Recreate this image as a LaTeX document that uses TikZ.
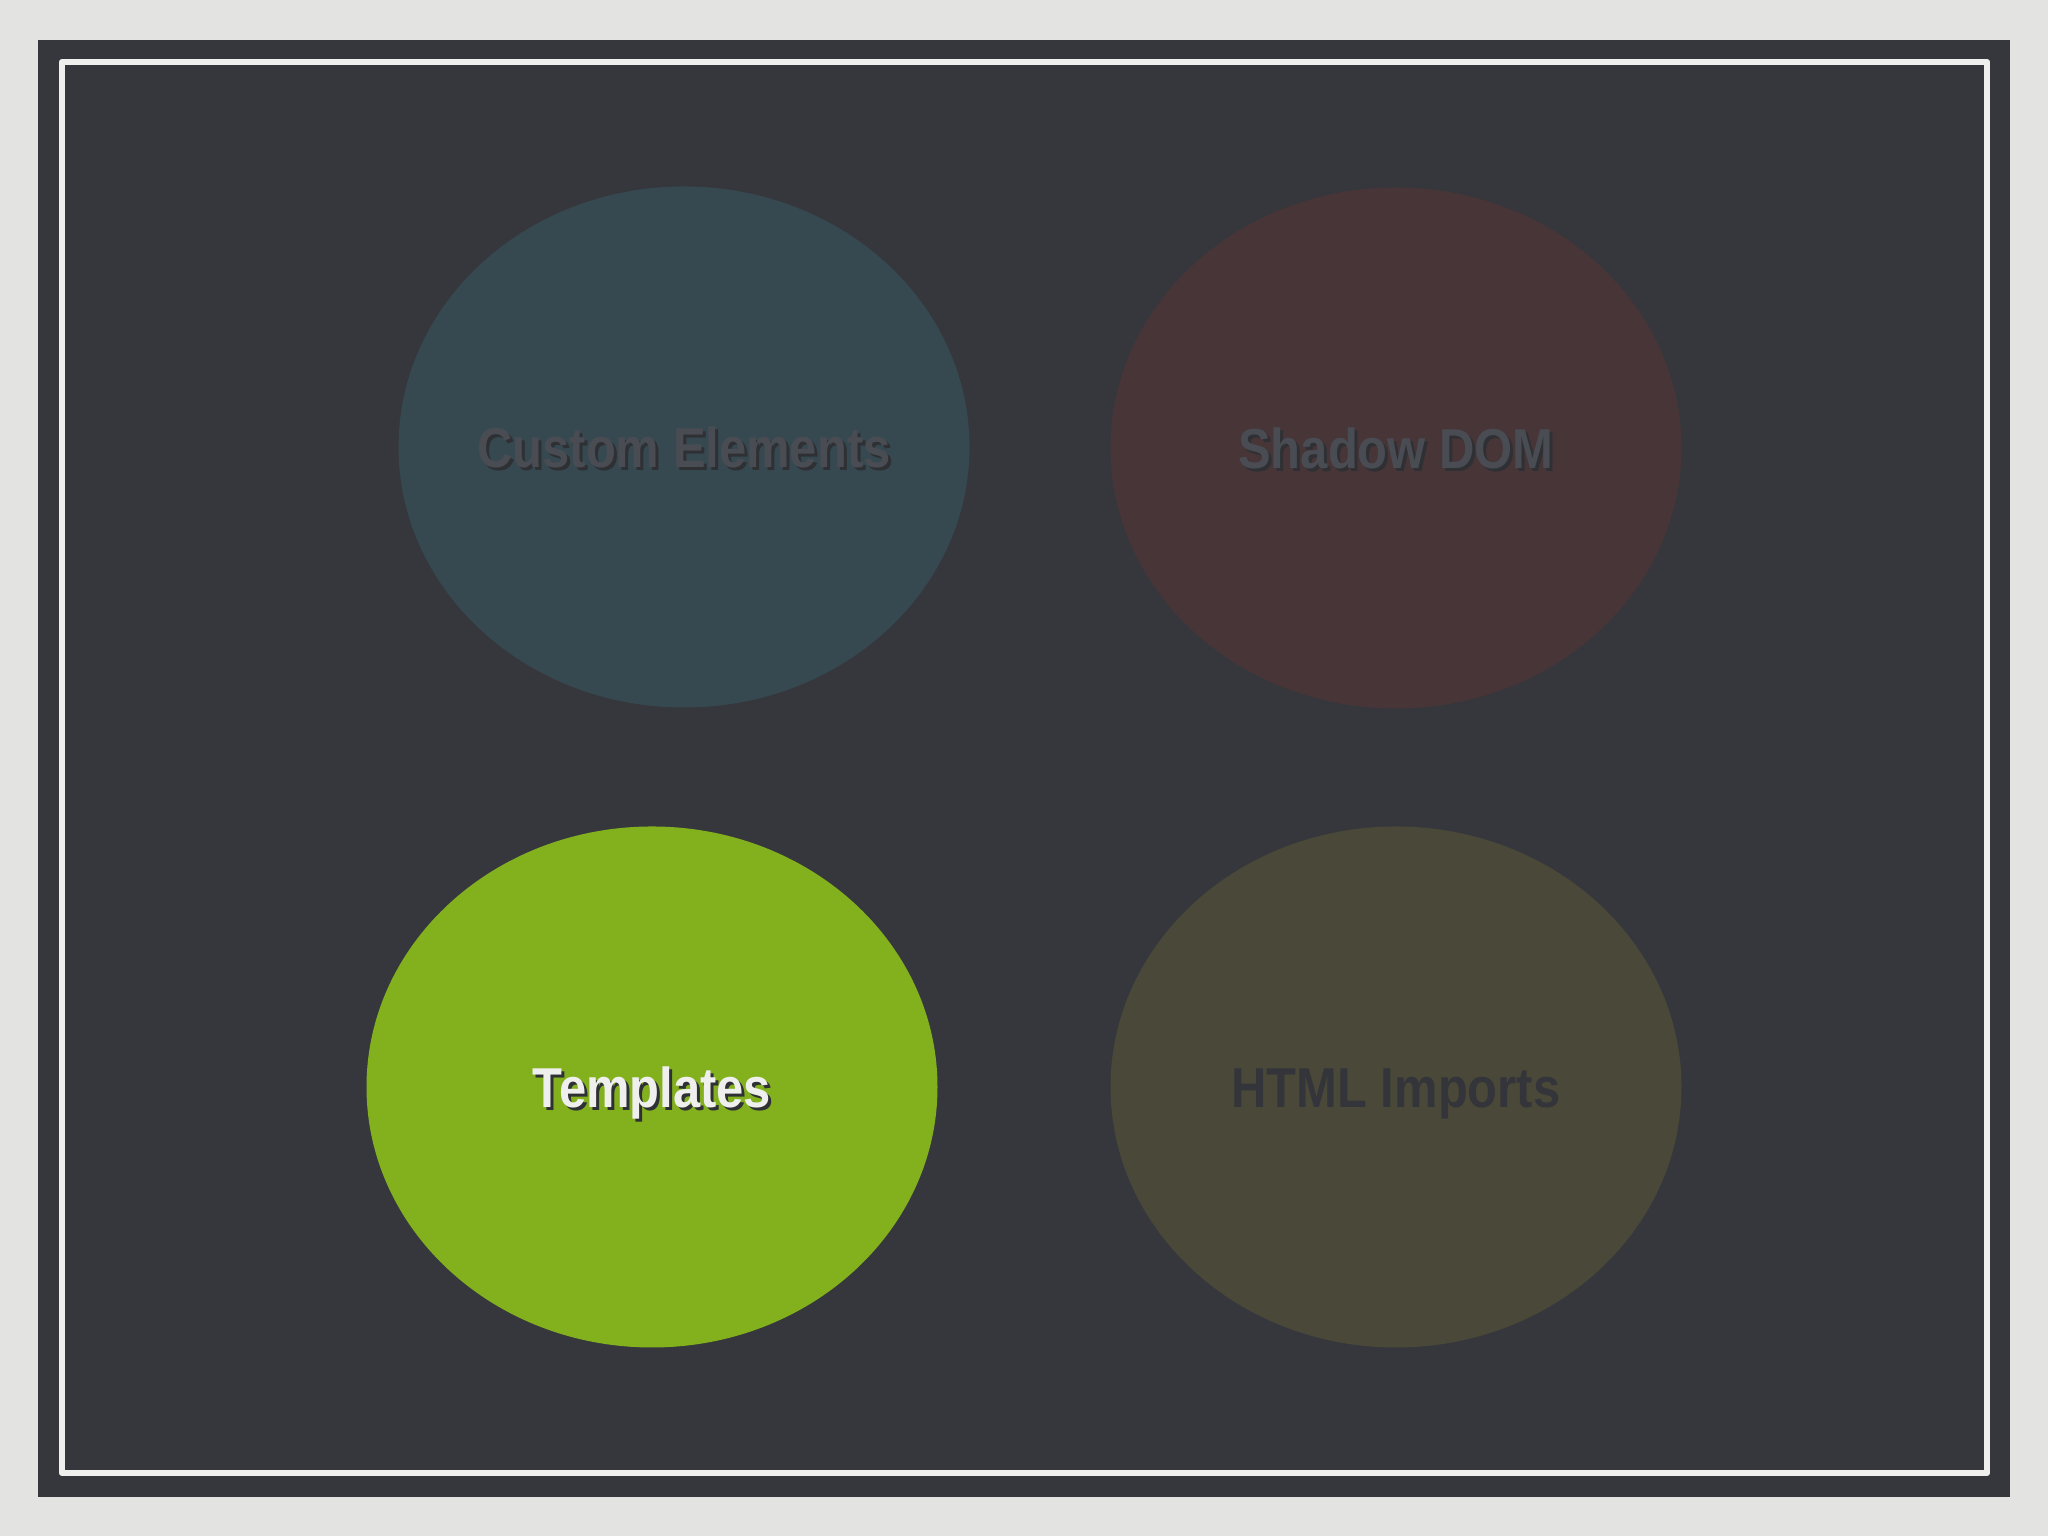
\documentclass[tikz,border=0pt]{standalone}
\usepackage{fontspec}
\setmainfont{Liberation Sans}[FakeStretch=0.87]
\usetikzlibrary{shapes.geometric}
\definecolor{paper}{HTML}{E3E3E1}
\definecolor{board}{HTML}{35373C}
\definecolor{chalk}{HTML}{EFEFED}
\definecolor{blueish}{HTML}{364951}
\definecolor{redish}{HTML}{473538}
\definecolor{greenish}{HTML}{83B11E}
\definecolor{oliveish}{HTML}{4A4838}
\definecolor{fadetext}{HTML}{494C53}
\definecolor{darktext}{HTML}{34353A}
\definecolor{shade}{HTML}{2E3034}
\begin{document}
\begin{tikzpicture}[line join=round,line cap=round,font=\bfseries\fontsize{16}{19}\selectfont,
	bubble/.style={ellipse,minimum width=5.71cm,minimum height=5.21cm,inner sep=0pt},
	label/.style={inner sep=0pt,anchor=base}]
			\fill[paper] (0,0) rectangle (20.48,15.36);
			\fill[board] (0.38,0.39) rectangle (20.10,14.96);
			\draw[chalk,line width=1.8pt] (0.62,0.63) rectangle (19.87,14.74);
			
			\foreach \n/\p/\c/\t/\s/\l in {ce/{6.84,10.89}/blueish/fadetext/shade/Custom Elements,
				sd/{13.96,10.88}/redish/fadetext/shade/Shadow DOM,
				tp/{6.52,4.49}/greenish/chalk/shade/Templates,
				hi/{13.96,4.49}/oliveish/darktext/oliveish/HTML Imports}
			{
				\node[bubble,fill=\c] (\n) at (\p) {};
				\node[label,text=\s] (\n-shadow) at ([shift={(0.03,-0.24)}]\n.center) {\l};
				\node[label,text=\t] (\n-text) at ([shift={(0,-0.205)}]\n.center) {\l};
			}
		\end{tikzpicture}
\end{document}
